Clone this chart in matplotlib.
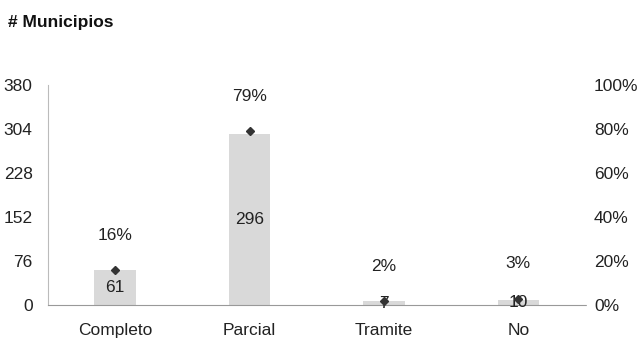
import matplotlib.pyplot as plt
import numpy as np

plt.rcParams['font.family'] = ['Liberation Sans Narrow', 'Liberation Sans', 'DejaVu Sans']

# Datos
categorias = ['Completo', 'Parcial', 'Tramite', 'No']
municipios = [61, 296, 7, 10]
porcentajes = [16, 79, 2, 3]
ticks_izq = [0, 76, 152, 228, 304, 380]
ticks_der = [0, 20, 40, 60, 80, 100]

fig = plt.figure(figsize=(6.4, 3.55), dpi=100)
ax = fig.add_axes([0.075, 0.14, 0.84, 0.62])
x = np.arange(len(categorias))

ax.bar(x, municipios, width=0.31, color='#d9d9d9', zorder=2)
for xi, v in zip(x, municipios):
    ax.text(xi, v / 2, str(v), ha='center', va='center', fontsize=12.5, color='#222222', zorder=4)

ax.set_ylim(0, 380)
ax.set_xlim(-0.5, 3.5)
ax.set_yticks(ticks_izq)
ax.set_xticks(x, categorias)
ax.tick_params(axis='both', length=0, labelsize=12.5, colors='#222222')
ax.tick_params(axis='x', pad=13)
ax.tick_params(axis='y', pad=11)
for s in ['top', 'right']:
    ax.spines[s].set_visible(False)
ax.spines['left'].set_color('#bbbbbb')
ax.spines['left'].set_linewidth(0.8)
ax.spines['bottom'].set_color('#999999')
ax.spines['bottom'].set_linestyle((0, (4, 1)))
ax.spines['bottom'].set_linewidth(0.8)

# Porcentaje en eje secundario
ax2 = ax.twinx()
ax2.set_ylim(0, 100)
ax2.set_yticks(ticks_der, [f'{t}%' for t in ticks_der])
ax2.tick_params(axis='y', length=0, labelsize=12.5, colors='#222222', pad=6)
for s in ax2.spines.values():
    s.set_visible(False)
ax2.plot(x, porcentajes, linestyle='none', marker='D', markersize=4.5, color='#333333', zorder=5)
for xi, p in zip(x, porcentajes):
    ax2.annotate(f'{p}%', (xi, p), xytext=(0, 25), textcoords='offset points',
                 ha='center', va='center', fontsize=12.5, color='#222222')

fig.text(0.012, 0.925, '# Municipios', fontsize=12.5, fontweight='bold', color='#111111')

fig.savefig('out.png', dpi=100, facecolor='white')
